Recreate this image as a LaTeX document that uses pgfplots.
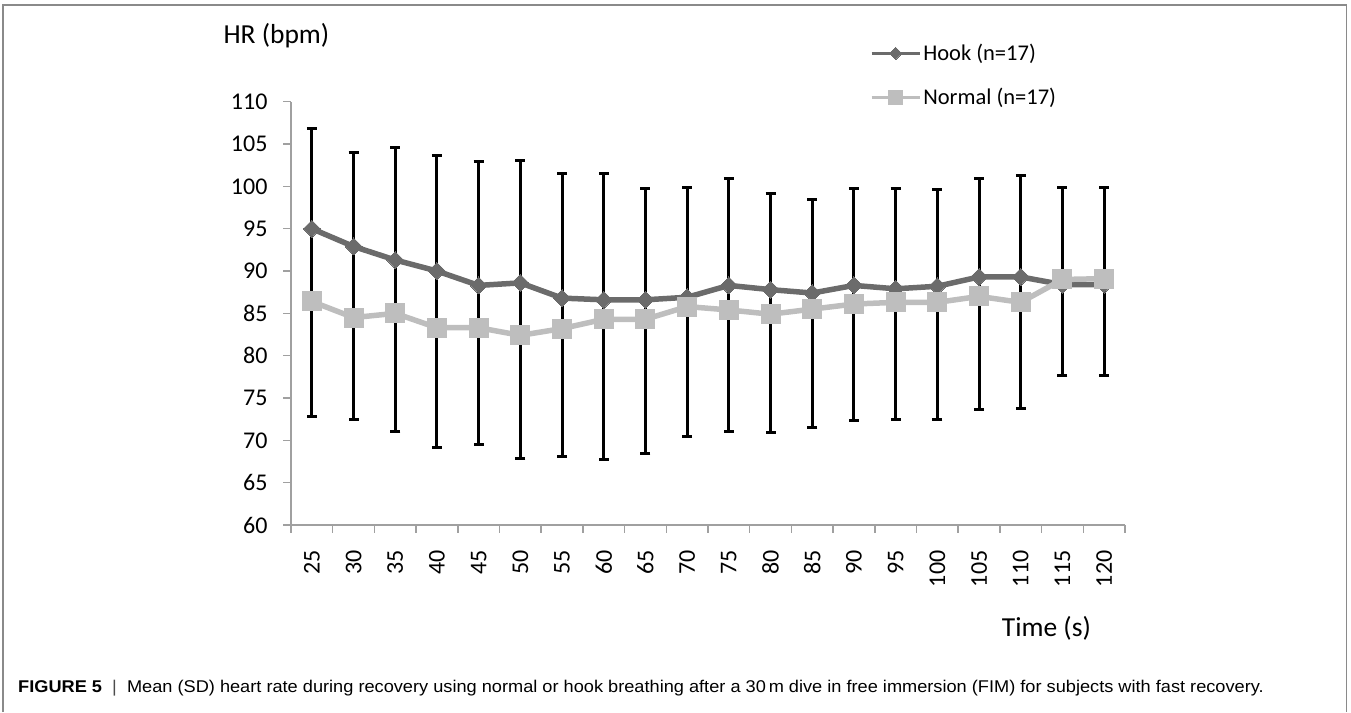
\documentclass[border=0pt]{standalone}
\usepackage{pgfplots}
\pgfplotsset{compat=1.18}
\usepackage{pgfplotstable}
\usepackage{fontspec}
\setmainfont{Carlito}
\newfontfamily\capfont[FakeStretch=1.07]{Liberation Sans}

\definecolor{hookgray}{HTML}{6B6B6B}
\definecolor{normgray}{HTML}{BEBEBE}
\definecolor{axisgray}{HTML}{A0A0A0}
\definecolor{framegray}{HTML}{8A8A8A}

% t = index of time point (25 s ... 120 s), means and SDs in bpm
\pgfplotstableread{
t hook hooksd normal normalsd
0  95.0 11.8 86.4 13.6
1  92.9 11.1 84.5 12.0
2  91.3 13.3 85.0 14.0
3  90.0 13.7 83.3 14.1
4  88.3 14.6 83.3 13.8
5  88.6 14.5 82.4 14.6
6  86.8 14.7 83.2 15.1
7  86.6 14.9 84.3 16.6
8  86.6 13.1 84.3 15.9
9  86.9 13.0 85.8 15.4
10 88.3 12.6 85.4 14.4
11 87.8 11.3 84.9 14.0
12 87.4 11.1 85.5 14.0
13 88.3 11.5 86.1 13.7
14 87.9 11.9 86.3 13.8
15 88.2 11.4 86.3 13.8
16 89.3 11.6 87.0 13.4
17 89.3 12.0 86.3 12.5
18 88.4 11.5 89.0 11.4
19 88.4 11.5 89.1 11.5
}\hrdata

\begin{document}
\begin{tikzpicture}[x=1pt,y=1pt]
\useasboundingbox (0,0) rectangle (1351,712);
\draw[framegray, line width=1.5pt] (3,0) -- (3,707) -- (1346.5,707) -- (1346.5,0);

\begin{axis}[
  scale only axis,
  width=834pt, height=423.3pt,
  at={(291pt,187pt)}, anchor=south west,
  clip=false,
  xmin=-0.5, xmax=19.5,
  ymin=60, ymax=110,
  axis x line*=bottom, axis y line*=left,
  axis line style={axisgray, line width=1.5pt, -},
  xtick={0,...,19},
  xticklabels={25,30,35,40,45,50,55,60,65,70,75,80,85,90,95,100,105,110,115,120},
  minor xtick={-0.5,0.5,...,19.5},
  ytick={60,65,...,110},
  tick align=outside,
  major tick length=8pt, minor tick length=8pt,
  x tick style={draw=none},
  minor x tick style={draw=axisgray, line width=1.5pt},
  y tick style={draw=axisgray, line width=1.5pt},
  /pgf/number format/assume math mode=true,
  tick label style={font=\fontsize{24}{24}\selectfont, black},
  yticklabel style={anchor=east, xshift=-12pt},
  xticklabel style={rotate=90, anchor=east, xshift=-14pt},
  legend style={draw=none, fill=none, at={(0.694,1.14)}, anchor=north west,
    font=\fontsize{22.5}{22.5}\selectfont, row sep=22pt,
    inner sep=0pt, outer sep=0pt},
  legend cell align=left,
  legend image code/.code={
    \draw[#1, line width=3.5pt, mark=none] (0pt,0pt) -- (48pt,0pt);
    \path[#1, draw=none, every mark/.append style={scale=0.72}]
      plot coordinates {(24pt,0pt)};
  },
  error bars/error bar style={black, line width=3pt},
  error bars/error mark options={black, line width=3pt, mark size=5pt, rotate=90},
]

% black bar joining the two means
\addplot[draw=none, forget plot,
  error bars/.cd, y dir=plus, y explicit, error mark=none]
  table[x=t, y=normal, y error expr=\thisrow{hook}-\thisrow{normal}] {\hrdata};
% +SD for hook breathing
\addplot[draw=none, forget plot,
  error bars/.cd, y dir=plus, y explicit]
  table[x=t, y=hook, y error=hooksd] {\hrdata};
% -SD for normal breathing
\addplot[draw=none, forget plot,
  error bars/.cd, y dir=minus, y explicit]
  table[x=t, y=normal, y error=normalsd] {\hrdata};

\addplot[hookgray, line width=5.5pt, mark=square*,
  mark options={rotate=45, hookgray, line width=0pt}, mark size=6pt]
  table[x=t, y=hook] {\hrdata};
\addlegendentry{Hook (n=17)}

\addplot[normgray, line width=5.5pt, mark=square*,
  mark options={normgray, line width=0pt}, mark size=9.5pt]
  table[x=t, y=normal] {\hrdata};
\addlegendentry{Normal (n=17)}
\end{axis}

\node[anchor=base west, inner sep=0pt, font=\fontsize{27.5}{27.5}\selectfont]
  at (223.3,668.7) {HR (bpm)};
\node[anchor=base west, inner sep=0pt, font=\fontsize{27.5}{27.5}\selectfont]
  at (1001.7,75.3) {Time (s)};
\node[anchor=base west, inner sep=0pt, font=\capfont\fontsize{17}{17}\selectfont]
  at (18,20) {\textbf{FIGURE 5}\ \ \textcolor{black!70}{|}\ \ Mean (SD) heart rate during recovery using normal or hook breathing after a 30\,m dive in free immersion (FIM) for subjects with fast recovery.};
\end{tikzpicture}
\end{document}
